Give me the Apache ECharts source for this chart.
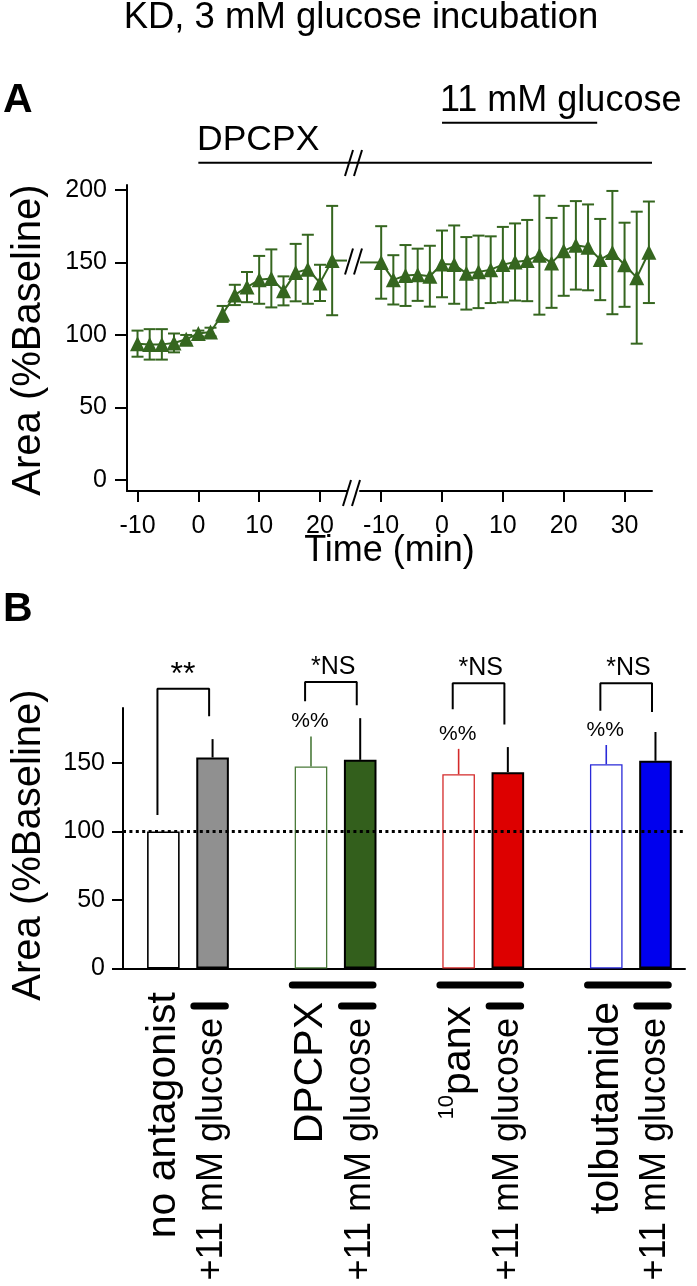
<!DOCTYPE html>
<html><head><meta charset="utf-8">
<script src="https://cdn.jsdelivr.net/npm/echarts@6/dist/echarts.min.js"></script>
<style>html,body{margin:0;padding:0;background:#fff}#c{width:697px;height:1286px}</style>
</head><body><div id="c"></div>
<script>
// ---------------- Panel A data ----------------
const timePre  = [-10,-8,-6,-4,-2,0,2,4,6,8,10,12,14,16,18,20,22];
const meanPre  = [94,93.5,93.5,94.5,97,101,102,114.5,127.6,133,138,139,130.4,143,145.3,135.9,151.3];
const semPre   = [9,10.5,10.5,6.5,3,2,3,5.5,7,10.4,16.5,20,10,19.8,23.8,12.5,37.7];
const timePost = [-10,-8,-6,-4,-2,0,2,4,6,8,10,12,14,16,18,20,22,24,26,28,30,32,34];
const meanPost = [150,138,141,141.5,140.5,149,148.5,142.5,143.5,145,148.5,150.3,151.3,155,149.7,158,161.8,160.4,152,156.8,148.4,139.5,157];
const semPost  = [25,17,21,18,21,23,27,25,25,23,26,26.6,28,41,31,31,30.5,29.6,28,42.5,29,45.5,35];
const xTicksPre  = [-10,0,10,20];
const xTicksPost = [-10,0,10,20,30];
const yTicksA    = [0,50,100,150,200];
const dpcpxStartPre = 0;          // DPCPX applied at t=0 (pre-break axis), lasts to end
const glucoseSpanPost = [0,25.5]; // 11 mM glucose bar on post-break axis

// ---------------- Panel B data ----------------
const groupNames   = ['no antagonist','DPCPX','panx','tolbutamide'];
const glucoseLabel = '+11 mM glucose';
const meanAnt = [100,147.3,141.7,149];
const errAnt  = [0,22,18.5,14];
const meanGlu = [153.9,152.2,143.2,151.5];
const errGlu  = [13.4,30.4,18.3,21];
const sigLabels = ['**','*NS','*NS','*NS'];
const pctLabels = ['','%%','%%','%%'];
const bracketTop      = [204,209,208,208];
const bracketLeftEnd  = [112,195,189,188];
const bracketRightEnd = [184,192,178,187];
const yTicksB = [0,50,100,150];
const baselineB = 100;

// ---------------- styles ----------------
const FONT = '"Liberation Sans", Arial, Helvetica, sans-serif';
const GREEN = '#35661f';
const antStroke = ['#000000','#4a7a3a','#d42a2a','#2a2ad8'];
const gluFill   = ['#909090','#335f1c','#dd0000','#0000ee'];

const preMin=-11.73, preMax=24.44, postMin=-13.48, postMax=34.51;

const chart = echarts.init(document.getElementById('c'));

function errA(params, api){
  const x=api.value(0), m=api.value(1), e=api.value(2);
  const t=api.coord([x,m+e]), b=api.coord([x,m-e]); const hw=6;
  const st={stroke:GREEN,lineWidth:2};
  return {type:'group',children:[
    {type:'line',shape:{x1:t[0],y1:t[1],x2:b[0],y2:b[1]},style:st},
    {type:'line',shape:{x1:t[0]-hw,y1:t[1],x2:t[0]+hw,y2:t[1]},style:st},
    {type:'line',shape:{x1:b[0]-hw,y1:b[1],x2:b[0]+hw,y2:b[1]},style:st}]};
}

const barsB=[];
groupNames.forEach((g,gi)=>{
  barsB.push({x:gi*3, v:meanAnt[gi], e:errAnt[gi], fill:'#ffffff', stroke:antStroke[gi], bw:gi===0?1.6:1.3, ec:antStroke[gi], ew:1.6});
  barsB.push({x:gi*3+1, v:meanGlu[gi], e:errGlu[gi], fill:gluFill[gi], stroke:'#000', bw:2, ec:'#000', ew:2});
});

const axisLbl = {fontSize:25, color:'#000', fontFamily:FONT};
const axLine = {show:true, onZero:false, lineStyle:{color:'#000', width:2}};

const series = [
  {type:'custom', xAxisIndex:0, yAxisIndex:0, renderItem:errA, encode:{x:0,y:1},
   data: timePre.map((t,i)=>[t,meanPre[i],semPre[i]]), z:2},
  {type:'line', xAxisIndex:0, yAxisIndex:0, data: timePre.map((t,i)=>[t,meanPre[i]]),
   symbol:'triangle', symbolSize:15, itemStyle:{color:GREEN}, lineStyle:{color:GREEN,width:2}, z:3},
  {type:'line', xAxisIndex:0, yAxisIndex:0, symbol:'none', lineStyle:{color:GREEN,width:2},
   data:[[timePre[timePre.length-1],meanPre[meanPre.length-1]],[preMax,meanPre[meanPre.length-1]]], z:1},
  {type:'custom', xAxisIndex:1, yAxisIndex:1, renderItem:errA, encode:{x:0,y:1},
   data: timePost.map((t,i)=>[t,meanPost[i],semPost[i]]), z:2},
  {type:'line', xAxisIndex:1, yAxisIndex:1, data: timePost.map((t,i)=>[t,meanPost[i]]),
   symbol:'triangle', symbolSize:15, itemStyle:{color:GREEN}, lineStyle:{color:GREEN,width:2}, z:3},
  {type:'line', xAxisIndex:1, yAxisIndex:1, symbol:'none', lineStyle:{color:GREEN,width:2},
   data:[[postMin,meanPost[0]],[timePost[0],meanPost[0]]], z:1},
  {type:'bar', xAxisIndex:2, yAxisIndex:2, barWidth:32.6,
   data: barsB.map(b=>({value:[b.x,b.v], itemStyle:{color:b.fill, borderColor:b.stroke, borderWidth:b.bw}})),
   markLine:{silent:true, symbol:['none','none'], label:{show:false},
     lineStyle:{color:'#000', width:3, type:[3,3.4]}, data:[{yAxis:baselineB}]}, z:2},
  {type:'custom', xAxisIndex:2, yAxisIndex:2, encode:{x:0,y:1}, z:3,
   data: barsB.map(b=>[b.x,b.v,b.e]),
   renderItem:(p,api)=>{const b=barsB[p.dataIndex]; if(!b.e) return null;
     const s=api.coord([b.x,b.v]), t=api.coord([b.x,b.v+b.e]);
     return {type:'line',shape:{x1:s[0],y1:s[1],x2:t[0],y2:t[1]},style:{stroke:b.ec,lineWidth:b.ew}};}}
];
// significance brackets + treatment bars
groupNames.forEach((g,gi)=>{
  const xl=gi*3-0.12, xr=gi*3+1-0.07;
  series.push({type:'line', xAxisIndex:2, yAxisIndex:2, symbol:'none', clip:false, silent:true,
    lineStyle:{color:'#000',width:2},
    data:[[xl,bracketLeftEnd[gi]],[xl,bracketTop[gi]],[xr,bracketTop[gi]],[xr,bracketRightEnd[gi]]]});
  if(gi>0) series.push({type:'line', xAxisIndex:2, yAxisIndex:2, symbol:'none', clip:false, silent:true,
    lineStyle:{color:'#000',width:7,cap:'round'}, data:[[gi*3-0.38,-12],[gi*3+1.26,-12]]});
  series.push({type:'line', xAxisIndex:2, yAxisIndex:2, symbol:'none', clip:false, silent:true,
    lineStyle:{color:'#000',width:7,cap:'round'}, data:[[gi*3+1-0.38,-27.4],[gi*3+1.26,-27.4]]});
});

const option = {
  animation:false,
  backgroundColor:'#fff',
  grid:[
    {left:127, top:185, width:220, height:306},
    {left:360, top:185, width:292, height:306},
    {left:123, top:708, width:562, height:260.5}
  ],
  xAxis:[
    {type:'value', gridIndex:0, min:preMin, max:preMax, axisLine:axLine, splitLine:{show:false},
     axisTick:{show:true, length:11, inside:false, customValues:xTicksPre, lineStyle:{color:'#000',width:2}},
     axisLabel:{...axisLbl, margin:23, customValues:xTicksPre}},
    {type:'value', gridIndex:1, min:postMin, max:postMax, axisLine:axLine, splitLine:{show:false},
     axisTick:{show:true, length:11, customValues:xTicksPost, lineStyle:{color:'#000',width:2}},
     axisLabel:{...axisLbl, margin:23, customValues:xTicksPost}},
    {type:'value', gridIndex:2, min:-0.82, max:10.6, axisLine:axLine, splitLine:{show:false},
     axisTick:{show:false}, axisLabel:{show:false}}
  ],
  yAxis:[
    {type:'value', gridIndex:0, min:-7.6, max:203.4, axisLine:axLine, splitLine:{show:false},
     axisTick:{show:true, length:12, customValues:yTicksA, lineStyle:{color:'#000',width:2}},
     axisLabel:{...axisLbl, margin:20, customValues:yTicksA}},
    {type:'value', gridIndex:1, min:-7.6, max:203.4, show:false},
    {type:'value', gridIndex:2, min:0, max:190, axisLine:axLine, splitLine:{show:false},
     axisTick:{show:true, length:11, customValues:yTicksB, lineStyle:{color:'#000',width:2}},
     axisLabel:{...axisLbl, margin:18, customValues:yTicksB}}
  ],
  series
};
chart.setOption(option);

// ---------- annotations ----------
const P=(g,pt)=>chart.convertToPixel({gridIndex:g},pt);
const txt=(x,y,text,size,extra={})=>Object.assign({type:'text',x,y,silent:true,
  style:Object.assign({text,fontSize:size,fontFamily:FONT,fill:'#000',align:'left',verticalAlign:'middle'},extra.style||{})},
  extra.rotation!==undefined?{rotation:extra.rotation}:{});
const ln=(x1,y1,x2,y2,w,c)=>({type:'line',silent:true,shape:{x1,y1,x2,y2},style:{stroke:c||'#000',lineWidth:w||2}});
const slashes=(xc,yc,h)=>[ln(xc-4.5-4,yc+h,xc-4.5+4,yc-h,2),ln(xc+4.5-4,yc+h,xc+4.5+4,yc-h,2)];

const g=[];
g.push(txt(361,17.5,'KD, 3 mM glucose incubation',36.5,{style:{align:'center'}}));
g.push(txt(3,101,'A',41,{style:{fontWeight:'bold'}}));
g.push(txt(3,610,'B',41,{style:{fontWeight:'bold'}}));
g.push(txt(440,100.8,'11 mM glucose',36));
g.push(txt(197,140.5,'DPCPX',35.5));
g.push(txt(389.5,551,'Time (min)',36,{style:{align:'center'}}));
g.push(txt(29,340,'Area (%Baseline)',40,{rotation:Math.PI/2,style:{align:'center'}}));
g.push(txt(29,845,'Area (%Baseline)',40,{rotation:Math.PI/2,style:{align:'center'}}));

// treatment lines panel A
const gx0=P(1,[glucoseSpanPost[0],0])[0], gx1=P(1,[glucoseSpanPost[1],0])[0];
g.push(ln(gx0,122.7,gx1,122.7,2));
const dx0=P(0,[dpcpxStartPre,0])[0], dx1=P(1,[postMax,0])[0];
g.push(ln(dx0,162.7,dx1,162.7,2));
const brkX=(P(0,[preMax,0])[0]+P(1,[postMin,0])[0])/2;
g.push(...slashes(brkX,163,13));
g.push(...slashes(brkX,P(0,[preMax,meanPre[meanPre.length-1]])[1]+1,13));
g.push(...slashes(brkX-2,493,13));

// panel B annotations
groupNames.forEach((name,gi)=>{
  const s=P(2,[gi===0?gi*3+0.4:gi*3+0.45,bracketTop[gi]+(gi===0?10:11)]);
  g.push(txt(s[0],s[1],sigLabels[gi],gi===0?32:25,{style:{align:'center'}}));
  if(pctLabels[gi]){const p=P(2,[gi*3-0.02,meanAnt[gi]+errAnt[gi]+11]);
    g.push(txt(p[0],p[1],pctLabels[gi],21,{style:{align:'center'}}));}
  const xa=P(2,[gi*3,0])[0], xg=P(2,[gi*3+1,0])[0];
  const topA = gi===0?992:(name==='panx'?1006:1002);
  if(name==='panx'){
    g.push({type:'text',x:xa,y:topA,rotation:Math.PI/2,silent:true,style:{text:'{s|10}{p|panx}',
      fontFamily:FONT,fill:'#000',align:'right',verticalAlign:'middle',
      rich:{s:{fontSize:22,fontFamily:FONT,verticalAlign:'top',lineHeight:45},p:{fontSize:41,fontFamily:FONT,lineHeight:45}}}});
  } else {
    g.push(txt(xa,topA,name,41,{rotation:Math.PI/2,style:{align:'right'}}));
  }
  g.push(txt(xg,1018,glucoseLabel,36,{rotation:Math.PI/2,style:{align:'right'}}));
});

chart.setOption({graphic:{elements:g}});
</script></body></html>
